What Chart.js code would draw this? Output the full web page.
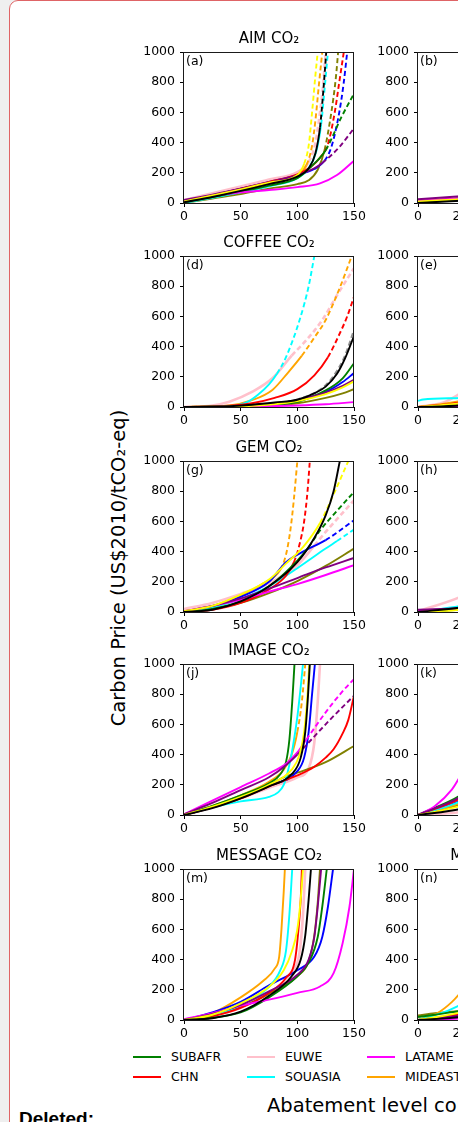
<!DOCTYPE html>
<html>
<head>
<meta charset="utf-8">
<script src="https://cdn.jsdelivr.net/npm/chart.js@4.4.1/dist/chart.umd.min.js"></script>
<style>
html, body { margin: 0; padding: 0; }
body { width: 458px; height: 1122px; overflow: hidden; background: #efefef; position: relative; font-family: 'DejaVu Sans', sans-serif; }
#sheet { position: absolute; left: 9px; top: 0; width: 700px; height: 1200px; background: #fff; border: 1px solid #df6466; border-radius: 9px; box-sizing: border-box; }
canvas { position: absolute; }
.txt { position: absolute; white-space: nowrap; color: #000; }
.key { position: absolute; height: 0; border-top: 2px solid; width: 28px; }
</style>
</head>
<body>
<div id="sheet"></div>
<div class="txt" style="left:118px; top:568px; font-size:19.5px; transform:translate(-50%,-50%) rotate(-90deg);">Carbon Price (US$2010/tCO₂-eq)</div>
<div class="txt" style="left:267px; top:1095px; font-size:19.5px; line-height:22px;">Abatement level compared to baseline (%)</div>
<div class="txt" style="left:19px; top:1109px; font:bold 19px 'Liberation Sans', Arial, sans-serif; line-height:19px;">Deleted:</div>
<div id="legend"></div>

<script>
// regions shown in the legend (the other curves' legend columns are outside the crop)
const regionNames = ['SUBAFR', 'CHN', 'EUWE', 'SOUASIA', 'LATAME', 'MIDEAST'];
// colours: 6 named regions, then blue, black, yellow, olive, purple, grey
const lineColors = ['#008000', '#ff0000', '#ffc0cb', '#00ffff', '#ff00ff', '#ffa500',
                    '#0000ff', '#000000', '#ffff00', '#808000', '#800080', '#909090'];
const drawRank = [4, 5, 11, 6, 3, 8, 7, 0, 1, 9, 2, 10]; // lower = drawn on top

const xTicksLeft = [0, 50, 100, 150];
const xTicksRight = [0, 25, 50, 75, 100];
const yTicks = [0, 200, 400, 600, 800, 1000];

// each curve: [x where dashed part starts (null = solid), [[abatement, price], ...]]
const aimCO2 = [
  [125, [[0,5],[25,40],[50,75],[75,115],[100,165],[112,240],[125,350],[139,570],[150,725]]],
  [120, [[0,10],[25,50],[50,95],[75,140],[100,190],[112,240],[120,300],[127,390],[133,600],[137,800],[141,1000]]],
  [110, [[0,20],[25,65],[50,110],[75,155],[100,205],[110,270],[116,400],[120,600],[123,800],[125,1000]]],
  [121, [[0,0],[25,35],[50,70],[75,110],[100,165],[110,230],[117,350],[121,520],[124,750],[127,1000]]],
  [null, [[0,15],[25,45],[50,70],[75,86],[100,105],[120,130],[135,185],[150,280]]],
  [108, [[0,10],[25,50],[50,90],[75,135],[100,185],[108,250],[113,380],[116,550],[119,780],[122,1000]]],
  [124, [[0,10],[25,50],[50,95],[75,140],[100,185],[115,225],[124,280],[130,370],[137,600],[141,800],[144,1000]]],
  [120, [[0,5],[25,40],[50,80],[75,125],[100,175],[110,230],[116,330],[120,500],[123,750],[125.5,1000]]],
  [106, [[0,10],[25,50],[50,90],[75,135],[100,185],[106,260],[110,380],[113,600],[116,850],[118,1000]]],
  [124, [[0,0],[25,30],[50,60],[75,95],[100,125],[110,150],[118,220],[124,350],[130,600],[134,830],[136,1000]]],
  [122, [[0,20],[25,55],[50,95],[75,135],[100,185],[115,230],[122,265],[137,370],[150,495]]],
  null
];
const coffeeCO2 = [
  [null, [[0,0],[60,8],[100,35],[125,110],[140,190],[150,290]]],
  [127, [[0,0],[40,8],[60,25],[80,60],[100,118],[115,210],[127,330],[137,480],[144,600],[150,730]]],
  [95, [[0,0],[25,10],[40,35],[60,100],[78,190],[95,340],[108,443],[122,576],[135,740],[150,920]]],
  [82, [[0,0],[40,5],[55,30],[65,80],[75,150],[82,220],[90,330],[102,576],[110,800],[115,1000]]],
  [null, [[0,0],[60,3],[100,10],[125,18],[150,32]]],
  [104, [[0,0],[40,10],[60,45],[78,113],[92,230],[104,340],[115,460],[125,576],[138,800],[148,1000]]],
  [null, [[0,0],[60,10],[100,45],[125,100],[140,165],[150,225]]],
  [null, [[0,0],[40,5],[60,15],[80,30],[100,48],[115,90],[125,135],[135,220],[142,320],[150,470]]],
  [null, [[0,0],[60,8],[100,40],[125,85],[140,130],[150,170]]],
  [null, [[0,0],[60,5],[100,25],[125,60],[140,90],[150,118]]],
  [null, [[0,0],[60,10],[100,45],[125,95],[140,140],[150,180]]],
  [0, [[0,0],[60,15],[100,50],[125,145],[135,240],[142,340],[150,510]]]
];
const gemCO2 = [
  [110, [[0,0],[25,20],[50,70],[75,170],[100,340],[110,430],[120,540],[135,670],[150,795]]],
  [97, [[0,0],[25,15],[50,60],[75,150],[90,240],[97,330],[102,450],[106,600],[109,800],[111,1000]]],
  [115, [[0,20],[25,60],[50,120],[75,190],[100,310],[115,440],[125,530],[150,740]]],
  [135, [[0,0],[25,30],[50,85],[75,170],[100,290],[125,420],[135,470],[150,546]]],
  [null, [[0,5],[25,40],[50,80],[75,135],[100,185],[125,245],[150,310]]],
  [85, [[0,5],[25,40],[50,110],[70,190],[85,280],[90,380],[94,550],[97,750],[100,1000]]],
  [125, [[0,0],[25,35],[50,100],[75,200],[90,330],[105,400],[125,476],[150,608]]],
  [null, [[0,0],[25,15],[50,70],[75,170],[100,330],[115,490],[125,640],[132,800],[137.5,1000]]],
  [120, [[0,5],[25,40],[50,115],[75,215],[90,320],[105,430],[120,590],[132,780],[145,1000]]],
  [null, [[0,0],[25,20],[50,60],[75,125],[100,205],[125,305],[150,420]]],
  [null, [[0,5],[25,40],[50,90],[75,155],[100,225],[125,295],[150,358]]],
  null
];
const imageCO2 = [
  [null, [[0,0],[25,60],[50,130],[75,210],[85,270],[90,350],[93,500],[95.5,750],[97.5,1000]]],
  [null, [[0,0],[25,50],[50,110],[75,190],[100,262],[115,320],[125,380],[132,435],[140,540],[145,630],[150,790]]],
  [null, [[0,0],[25,50],[50,110],[75,180],[100,250],[110,310],[115,480],[118,750],[120,1000]]],
  [null, [[0,0],[25,50],[50,90],[75,120],[83,150],[88,200],[92,300],[96,450],[100,650],[103,850],[105,1000]]],
  [108, [[0,5],[25,95],[50,185],[75,275],[90,340],[100,415],[108,500],[125,680],[140,820],[150,900]]],
  [100, [[0,0],[25,60],[50,130],[75,220],[88,300],[95,400],[100,550],[104,750],[107,1000]]],
  [null, [[0,0],[25,50],[50,115],[75,195],[100,290],[106,380],[110,550],[113,800],[115.5,1000]]],
  [null, [[0,0],[25,45],[50,110],[75,190],[95,270],[103,380],[107,550],[109.5,800],[111,1000]]],
  [null, [[0,0],[25,55],[50,120],[75,200],[95,300],[102,400],[106,550],[109,800],[110.5,1000]]],
  [null, [[0,0],[25,50],[50,120],[75,200],[90,255],[100,280],[125,350],[150,457]]],
  [100, [[0,5],[25,80],[50,165],[75,250],[90,330],[100,400],[110,480],[130,640],[150,790]]],
  null
];
const messageCO2 = [
  [null, [[0,0],[25,15],[50,50],[75,150],[100,290],[110,380],[118,550],[122,750],[126,1000]]],
  [null, [[0,0],[25,25],[50,80],[75,180],[90,280],[98,400],[101,600],[103,800],[104,1000]]],
  [null, [[0,0],[25,25],[50,80],[75,180],[95,320],[102,450],[105,700],[107,1000]]],
  [null, [[0,0],[25,30],[50,100],[75,220],[85,330],[90,460],[93,700],[95.5,1000]]],
  [null, [[0,5],[25,45],[50,95],[75,135],[100,180],[120,222],[132,310],[140,510],[146,750],[150,1000]]],
  [null, [[0,0],[25,45],[50,150],[70,260],[80,340],[84,420],[86,600],[88,850],[89,1000]]],
  [null, [[0,0],[25,50],[50,120],[75,230],[100,330],[115,420],[122,550],[127,750],[131.5,1000]]],
  [null, [[0,0],[25,12],[50,55],[75,160],[95,290],[103,400],[107,560],[110,800],[112,1000]]],
  [null, [[0,0],[25,35],[50,110],[75,220],[88,330],[95,450],[100,600],[103,800],[105,1000]]],
  [null, [[0,0],[25,30],[50,85],[75,175],[100,290],[110,390],[115,560],[118,780],[120,1000]]],
  [null, [[0,0],[25,40],[50,100],[75,190],[100,300],[110,400],[115,550],[118,750],[121,1000]]],
  null
];
// right-hand column (only its left edge is inside the crop)
const aimRight = [
  [null, [[0,5],[25,25],[50,50]]], [null, [[0,10],[25,30],[50,55]]], [null, [[0,15],[25,35],[50,60]]],
  [null, [[0,5],[25,20],[50,40]]], [null, [[0,15],[25,30],[50,50]]], [null, [[0,10],[25,30],[50,60]]],
  [null, [[0,10],[25,30],[50,55]]], [null, [[0,0],[25,15],[50,35]]], [null, [[0,10],[25,25],[50,45]]],
  [null, [[0,5],[25,20],[50,40]]], [null, [[0,25],[25,45],[50,70]]], null
];
const coffeeRight = [
  [null, [[0,0],[25,15],[50,50]]], [null, [[0,0],[25,30],[50,100]]], [null, [[0,0],[15,30],[25,90],[50,250]]],
  [null, [[0,40],[3,50],[25,60],[50,80]]], [null, [[0,0],[25,5],[50,15]]], [null, [[0,0],[25,40],[50,120]]],
  [null, [[0,0],[25,20],[50,60]]], [null, [[0,0],[25,10],[50,40]]], [null, [[0,0],[25,25],[50,80]]],
  [null, [[0,0],[25,10],[50,30]]], [null, [[0,0],[25,15],[50,45]]], null
];
const gemRight = [
  [null, [[0,0],[25,20],[50,60]]], [null, [[0,0],[25,25],[50,70]]], [null, [[0,5],[25,100],[50,250]]],
  [null, [[0,0],[25,40],[50,100]]], [null, [[0,10],[25,20],[50,40]]], [null, [[0,0],[25,30],[50,90]]],
  [null, [[0,0],[25,25],[50,70]]], [null, [[0,0],[25,30],[50,80]]], [null, [[0,0],[25,15],[50,50]]],
  [null, [[0,0],[25,15],[50,40]]], [null, [[0,15],[25,25],[50,45]]], null
];
const imageRight = [
  [null, [[0,0],[25,130],[50,350]]], [null, [[0,0],[25,110],[50,300]]], [null, [[0,0],[25,20],[50,80]]],
  [null, [[0,0],[25,90],[50,250]]], [null, [[0,0],[10,60],[20,170],[25,260],[50,700]]], [null, [[0,0],[25,80],[50,230]]],
  [null, [[0,0],[25,95],[50,260]]], [null, [[0,0],[25,40],[50,120]]], [null, [[0,0],[25,60],[50,180]]],
  [null, [[0,0],[25,70],[50,200]]], [null, [[0,0],[25,120],[50,320]]], null
];
const messageRight = [
  [null, [[0,20],[10,35],[25,60],[50,120]]], [null, [[0,0],[25,40],[50,120]]], [null, [[0,0],[25,45],[50,130]]],
  [null, [[0,0],[15,50],[25,100],[50,250]]], [null, [[0,0],[25,10],[50,40]]], [null, [[0,0],[12,50],[20,120],[25,180],[50,500]]],
  [null, [[0,0],[25,35],[50,100]]], [null, [[0,0],[25,20],[50,70]]], [null, [[0,0],[25,50],[50,150]]],
  [null, [[0,30],[10,45],[25,60],[50,100]]], [null, [[0,0],[25,30],[50,90]]], null
];

const panels = [
  { letter: '(a)', title: 'AIM CO₂', curves: aimCO2, col: 0, row: 0 },
  { letter: '(b)', title: 'AIM CH₄', curves: aimRight, col: 1, row: 0 },
  { letter: '(d)', title: 'COFFEE CO₂', curves: coffeeCO2, col: 0, row: 1 },
  { letter: '(e)', title: 'COFFEE CH₄', curves: coffeeRight, col: 1, row: 1 },
  { letter: '(g)', title: 'GEM CO₂', curves: gemCO2, col: 0, row: 2 },
  { letter: '(h)', title: 'GEM CH₄', curves: gemRight, col: 1, row: 2 },
  { letter: '(j)', title: 'IMAGE CO₂', curves: imageCO2, col: 0, row: 3 },
  { letter: '(k)', title: 'IMAGE CH₄', curves: imageRight, col: 1, row: 3 },
  { letter: '(m)', title: 'MESSAGE CO₂', curves: messageCO2, col: 0, row: 4 },
  { letter: '(n)', title: 'MESSAGE CH₄', curves: messageRight, col: 1, row: 4 }
];

// layout (pixels)
const rowTops = [52, 256, 461, 664, 869];
const colLefts = [184, 418];
const plotW = 170, plotH = 151;
const padL = 50, padT = 25, padB = 22, padR = 15;

Chart.defaults.font.family = "'DejaVu Sans', sans-serif";
Chart.defaults.color = '#000';

// box around the plot area, panel letter and title centred over the plot area
const framePlugin = {
  id: 'frame',
  afterDatasetsDraw(chart, args, opts) {
    const { ctx, chartArea: a } = chart;
    ctx.save();
    ctx.strokeStyle = '#1a1a1a';
    ctx.lineWidth = 1;
    ctx.strokeRect(Math.round(a.left) - 0.5, Math.round(a.top) + 0.5, Math.round(a.width), Math.round(a.height));
    ctx.fillStyle = '#000';
    ctx.font = "12.5px 'DejaVu Sans'";
    ctx.textBaseline = 'middle';
    ctx.fillText(opts.letter, a.left + 2, a.top + 10);
    ctx.font = "15px 'DejaVu Sans'";
    ctx.textAlign = 'center';
    ctx.fillText(opts.title, (a.left + a.right) / 2, a.top - 13);
    ctx.restore();
  }
};

function makePanel(p) {
  const W = padL + plotW + padR, H = padT + plotH + padB;
  const cv = document.createElement('canvas');
  cv.width = W; cv.height = H;
  cv.style.width = W + 'px'; cv.style.height = H + 'px';
  cv.style.left = (colLefts[p.col] - padL) + 'px';
  cv.style.top = (rowTops[p.row] - padT) + 'px';
  document.body.appendChild(cv);

  const xTicks = p.col === 0 ? xTicksLeft : xTicksRight;
  const datasets = [];
  p.curves.forEach((c, i) => {
    if (!c) return;
    const dashFrom = c[0];
    datasets.push({
      label: regionNames[i] || '',
      data: c[1].map(pt => ({ x: pt[0], y: pt[1] })),
      borderColor: lineColors[i],
      borderWidth: i === 2 ? 2.6 : 1.9,
      pointRadius: 0,
      cubicInterpolationMode: 'monotone',
      order: drawRank[i],
      segment: {
        borderDash: ctx => (dashFrom !== null && ctx.p0.parsed.x >= dashFrom) ? [5, 3] : undefined
      }
    });
  });

  new Chart(cv, {
    type: 'line',
    data: { datasets },
    plugins: [framePlugin],
    options: {
      responsive: false,
      animation: false,
      events: [],
      layout: { padding: { left: 0, right: padR, top: padT, bottom: 0 } },
      plugins: {
        legend: { display: false },
        tooltip: { enabled: false },
        frame: { letter: p.letter, title: p.title }
      },
      scales: {
        x: {
          type: 'linear', min: 0, max: xTicks[xTicks.length - 1],
          afterBuildTicks: s => { s.ticks = xTicks.map(v => ({ value: v })); },
          afterFit: s => { s.height = padB; },
          ticks: { color: '#000', font: { size: 12.5 }, padding: 2, maxRotation: 0, autoSkip: false, callback: v => String(v) },
          grid: { drawOnChartArea: false, tickLength: 4, color: '#000' },
          border: { display: false }
        },
        y: {
          type: 'linear', min: 0, max: 1000,
          afterBuildTicks: s => { s.ticks = yTicks.map(v => ({ value: v })); },
          afterFit: s => { s.width = padL; },
          ticks: { color: '#000', font: { size: 12.5 }, padding: 5, autoSkip: false, callback: v => String(v) },
          grid: { drawOnChartArea: false, tickLength: 4, color: '#000' },
          border: { display: false }
        }
      }
    }
  });
}

panels.forEach(makePanel);

// legend (matplotlib-style, column-major, two rows)
const legend = document.getElementById('legend');
const legendCols = [133, 247, 367];
const legendRows = [1057, 1077];
regionNames.forEach((name, i) => {
  const x = legendCols[Math.floor(i / 2)], y = legendRows[i % 2];
  const k = document.createElement('div');
  k.className = 'key';
  k.style.left = x + 'px'; k.style.top = (y - 1) + 'px';
  k.style.borderColor = lineColors[i];
  legend.appendChild(k);
  const t = document.createElement('div');
  t.className = 'txt';
  t.style.left = (x + 38) + 'px'; t.style.top = (y - 8) + 'px';
  t.style.fontSize = '12.5px'; t.style.lineHeight = '16px';
  t.textContent = name;
  legend.appendChild(t);
});
</script>
</body>
</html>
